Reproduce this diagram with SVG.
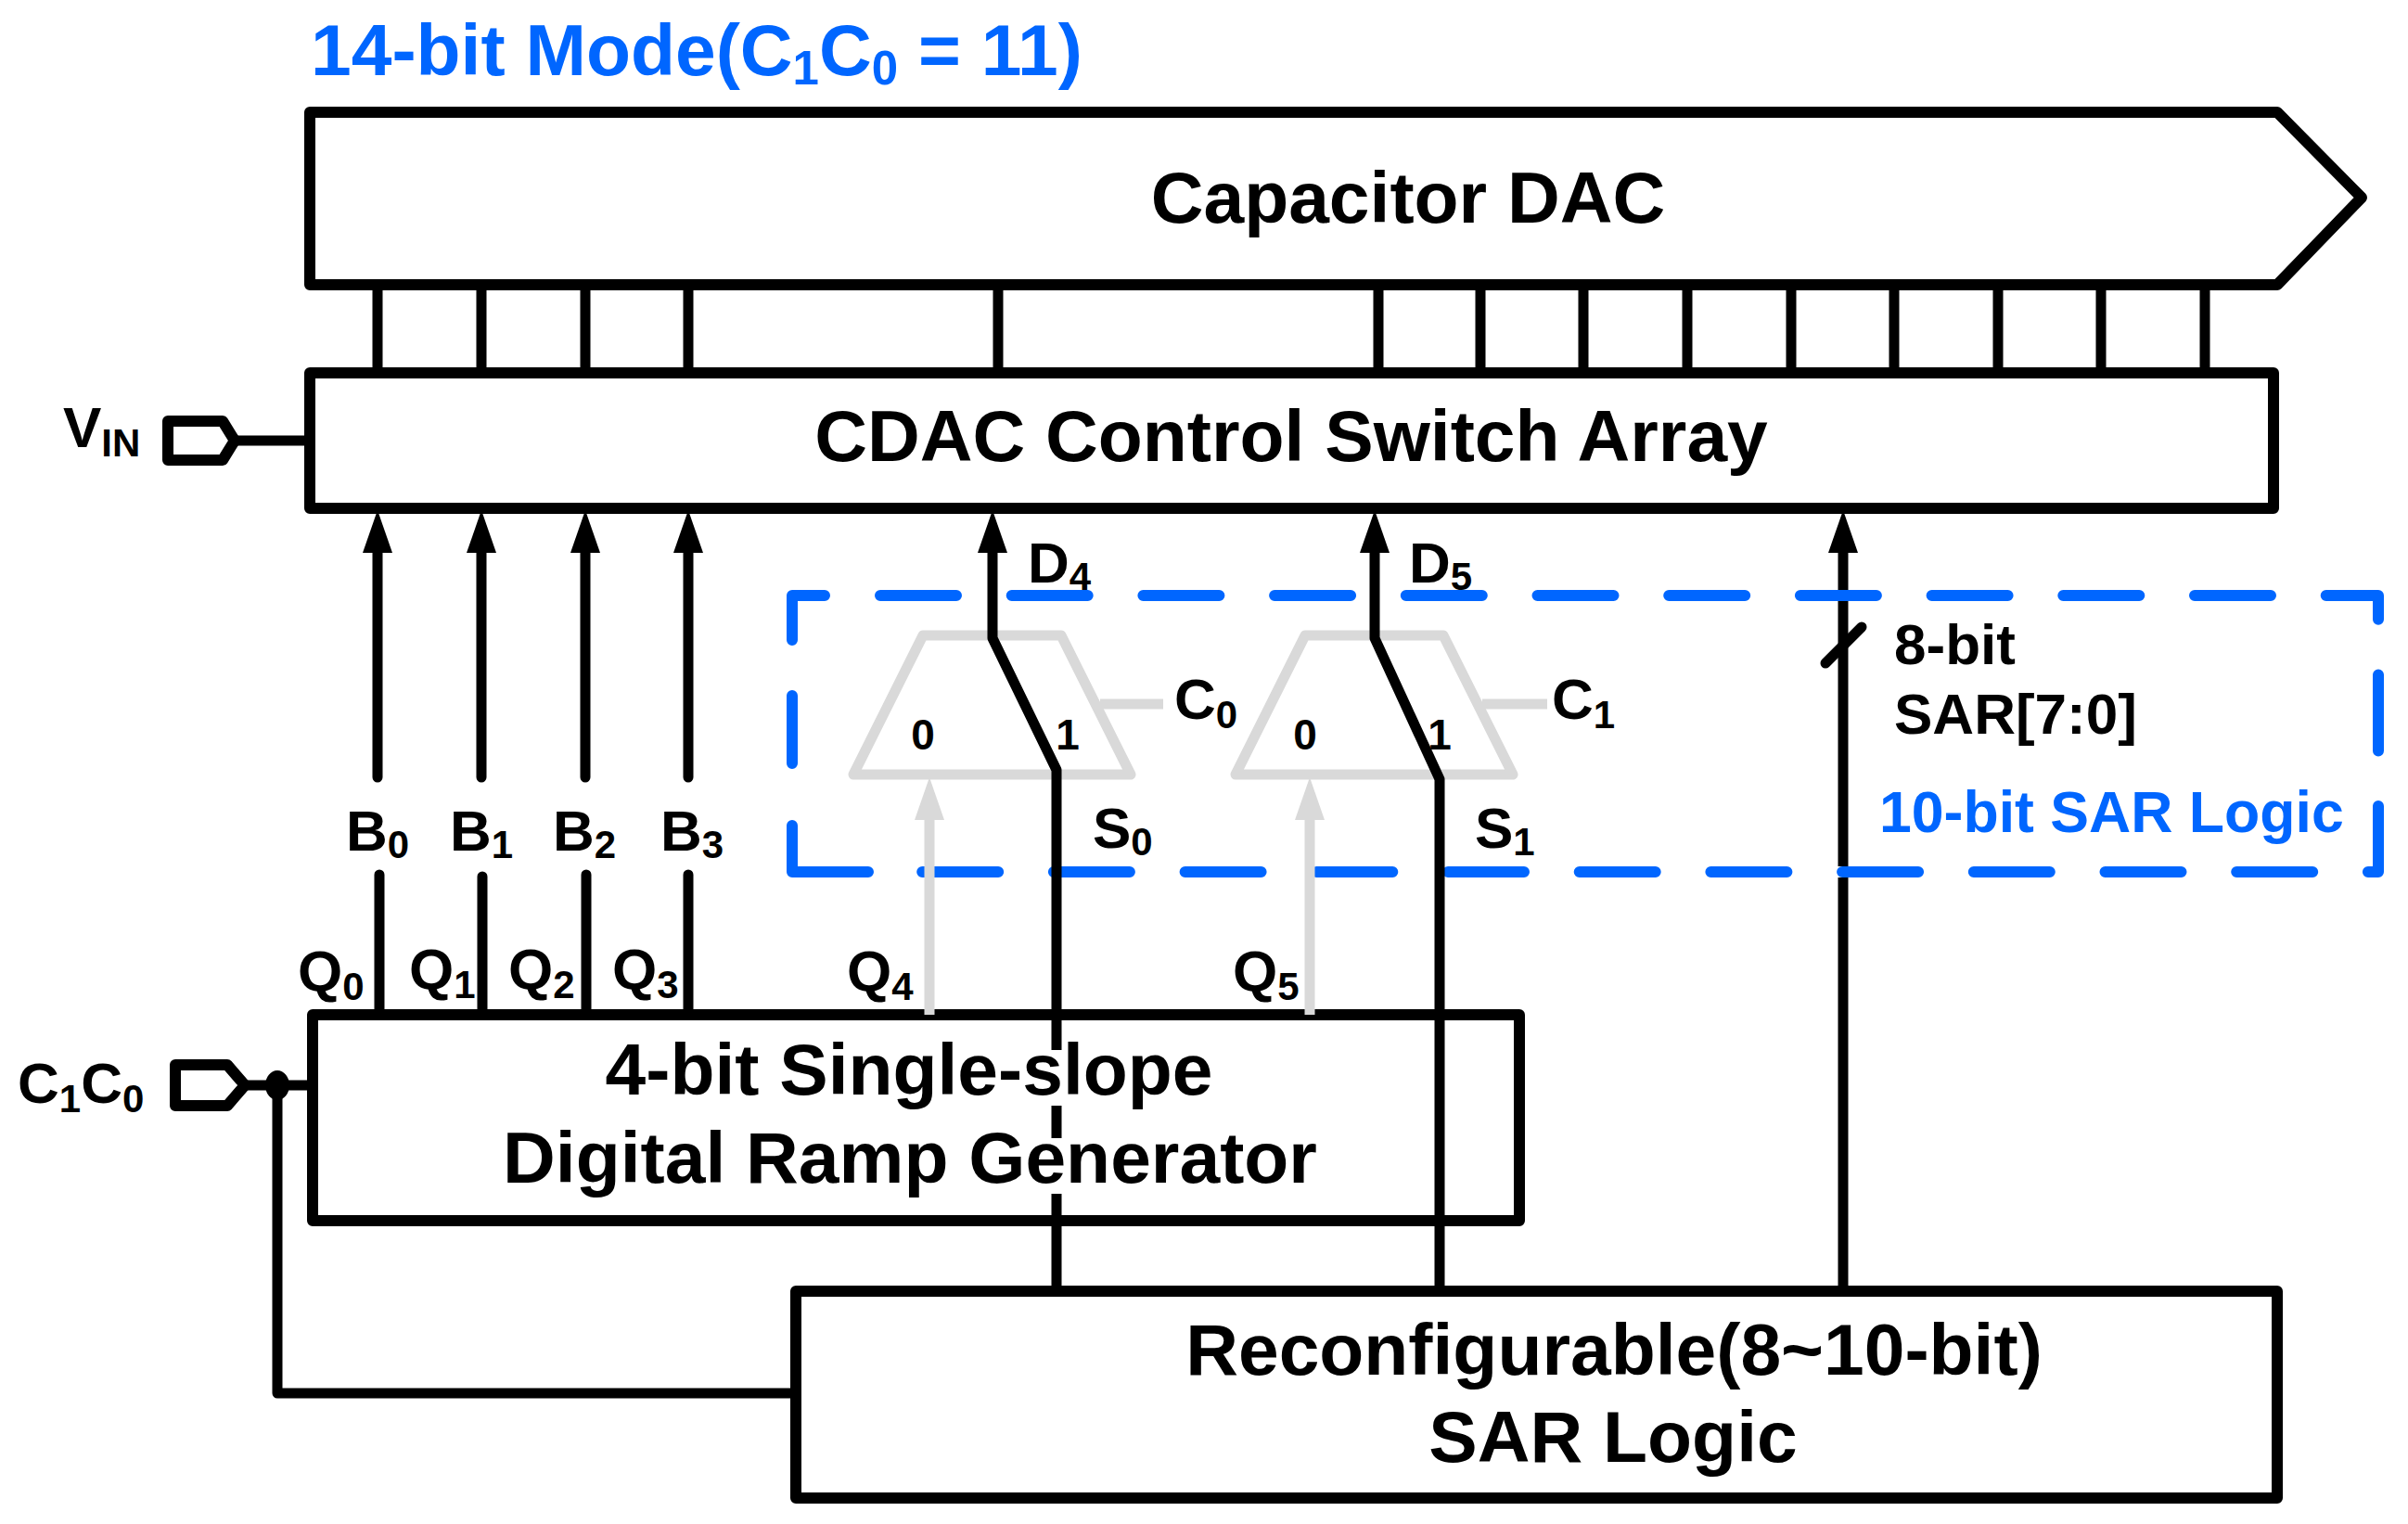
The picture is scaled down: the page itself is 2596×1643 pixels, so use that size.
<svg xmlns="http://www.w3.org/2000/svg" width="2596" height="1643" viewBox="0 0 2596 1643">
<defs>
<style>
text{font-family:"Liberation Sans",Arial,sans-serif;font-weight:700;fill:#000}
.big{font-size:78.6px}
.lab{font-size:62px}
.sub{font-size:42px}
.mux{font-size:46px}
.blue{fill:#0066ff}
.c{text-anchor:middle}
.box{fill:#fff;stroke:#000;stroke-width:12;stroke-linejoin:round}
.wire{fill:none;stroke:#000;stroke-width:11;stroke-linecap:butt;stroke-linejoin:round}
.rnd{stroke-linecap:round}
.gray{fill:none;stroke:#d9d9d9;stroke-width:11;stroke-linejoin:round}
.dash{fill:none;stroke:#0066ff;stroke-width:12;stroke-linecap:round;stroke-linejoin:round}
</style>
<path id="head" d="M-16,46L0,0L16,46Z"/>
</defs>
<rect width="2596" height="1643" fill="#fff"/>

<g id="capacitor-dac">
<path class="box" d="M334,121H2455L2546,213L2455,307H334Z"/>
<text class="big c" x="1518" y="240">Capacitor DAC</text>
</g>
<g id="switch-array">
<rect class="box" x="334" y="402" width="2117" height="146"/>
<text class="big c" x="1392" y="497">CDAC Control Switch Array</text>
</g>
<g id="ramp-generator">
<rect class="box" x="337" y="1094" width="1301" height="222"/>
<text class="big c" x="980" y="1180">4-bit Single-slope</text>
<text class="big c" x="981" y="1275">Digital Ramp Generator</text>
</g>
<g id="sar-logic">
<rect class="box" x="858" y="1392" width="1597" height="223"/>
<text class="big c" x="1740" y="1482">Reconfigurable(8~10-bit)</text>
<text class="big c" x="1739" y="1576">SAR Logic</text>
</g>
<g id="vin-pad">
<path class="box" d="M181,454H240L253,475L240,496H181Z"/>
<text class="lab" x="68" y="482">V<tspan class="sub" dy="10">IN</tspan></text>
</g>
<g id="c1c0-pad">
<path class="box" d="M189,1148H245L264,1170L245,1192H189Z"/>
<text class="lab" x="19" y="1189">C<tspan class="sub" dy="10">1</tspan><tspan dy="-10">C</tspan><tspan class="sub" dy="10">0</tspan></text>
</g>
<g id="mux0">
<path class="gray" d="M995,685H1144L1219,835H920Z"/>
<path class="gray" d="M1186,759H1254"/>
<text class="mux c" x="995" y="808">0</text>
<text class="mux c" x="1151" y="808">1</text>
<text class="lab" x="1266" y="775">C<tspan class="sub" dy="10">0</tspan></text>
</g>
<g id="mux1">
<path class="gray" d="M1407,685H1556L1631,835H1332Z"/>
<path class="gray" d="M1598,759H1668"/>
<text class="mux c" x="1407" y="808">0</text>
<text class="mux c" x="1552" y="808">1</text>
<text class="lab" x="1673" y="775">C<tspan class="sub" dy="10">1</tspan></text>
</g>
<g id="sar10-region">
<path class="dash" d="M949,642H2564V940H960" stroke-dasharray="82 59.7"/>
<path class="dash" d="M889,642H854V690M854,750V823M854,890V940H936"/>
<text class="blue" font-size="62.6" x="2026" y="897">10-bit SAR Logic</text>
</g>

<g id="connectors">
<path class="wire" d="M407,307V402M519,307V402M631,307V402M742,307V402M1076,307V402M1486,307V402M1596,307V402M1707,307V402M1819,307V402M1931,307V402M2042,307V402M2154,307V402M2265,307V402M2377,307V402"/>
<path class="wire" d="M253,475H334M264,1170H337"/>
<path class="wire" d="M299,1170V1502H858"/>
<ellipse cx="299" cy="1170" rx="13" ry="16" fill="#000"/>
<path class="wire rnd" d="M407,838V590M519,838V590M631,838V590M742,838V590"/>
<path class="wire rnd" d="M409,1094V943M520,1094V945M632,1094V943M742,1094V943"/>
<use href="#head" x="407" y="550"/><use href="#head" x="519" y="550"/><use href="#head" x="631" y="550"/><use href="#head" x="742" y="550"/>
<path class="wire" d="M1070,590V688L1139,830V1132M1139,1192V1227M1139,1287V1392"/>
<path class="wire" d="M1482,590V688L1552,840V1392"/>
<use href="#head" x="1070" y="550"/><use href="#head" x="1482" y="550"/><use href="#head" x="1987" y="550"/>
<path class="wire" d="M1987,590V636M1987,648V934M1987,946V1392"/>
<path class="wire rnd" d="M1968,715L2007,676"/>
<path class="gray" d="M1002,1094V880M1412,1094V880"/>
<use href="#head" x="1002" y="838" fill="#d9d9d9"/><use href="#head" x="1412" y="838" fill="#d9d9d9"/>
<text class="lab" x="1108" y="628">D<tspan class="sub" dy="8">4</tspan></text>
<text class="lab" x="1519" y="628">D<tspan class="sub" dy="8">5</tspan></text>
<text class="lab" x="1178" y="914">S<tspan class="sub" dy="8">0</tspan></text>
<text class="lab" x="1590" y="914">S<tspan class="sub" dy="8">1</tspan></text>
<text class="lab" x="373" y="917">B<tspan class="sub" dy="8">0</tspan></text>
<text class="lab" x="485" y="917">B<tspan class="sub" dy="8">1</tspan></text>
<text class="lab" x="596" y="917">B<tspan class="sub" dy="8">2</tspan></text>
<text class="lab" x="712" y="917">B<tspan class="sub" dy="8">3</tspan></text>
<text class="lab" x="321" y="1068">Q<tspan class="sub" dy="10">0</tspan></text>
<text class="lab" x="441" y="1066">Q<tspan class="sub" dy="10">1</tspan></text>
<text class="lab" x="548" y="1066">Q<tspan class="sub" dy="10">2</tspan></text>
<text class="lab" x="660" y="1066">Q<tspan class="sub" dy="10">3</tspan></text>
<text class="lab" x="913" y="1068">Q<tspan class="sub" dy="10">4</tspan></text>
<text class="lab" x="1329" y="1068">Q<tspan class="sub" dy="10">5</tspan></text>
<text class="lab" x="2042" y="716">8-bit</text>
<text class="lab" x="2042" y="791">SAR[7:0]</text>
</g>
<text id="title" class="big blue" x="335" y="81">14-bit Mode(C<tspan font-size="51" dy="10">1</tspan><tspan dy="-10">C</tspan><tspan font-size="51" dy="10">0</tspan><tspan dy="-10"> = 11)</tspan></text>
</svg>
